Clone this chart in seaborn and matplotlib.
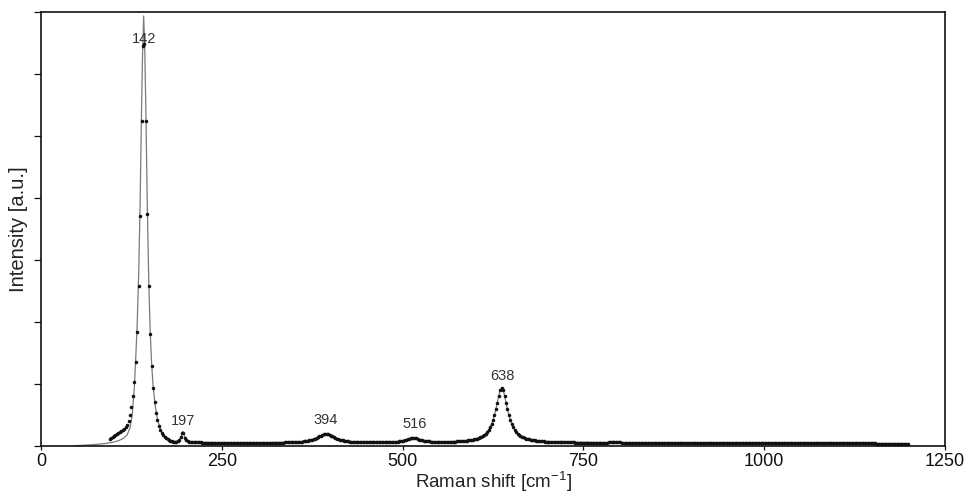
import numpy as np
import pandas as pd
import matplotlib
matplotlib.use("Agg")
import matplotlib.pyplot as plt
import seaborn as sns

# Messpunkte: Raman-Spektrum, Schrittweite 2 cm^-1 ab 95 cm^-1
shift_start = 95
shift_step = 2
intensity = [
    7, 8, 9, 10, 11, 12, 13, 14, 15, 16, 17, 19, 21, 25, 31, 39, 50, 64, 84, 114,            # 95
    160, 230, 325, 400, 402, 325, 232, 160, 112, 80, 58, 44, 33, 26, 20, 16, 13, 11, 9, 8,  # 135
    7, 6, 5.5, 5, 4.5, 4.5, 4.5, 5, 6.5, 9.5, 13.5, 13, 8.5, 6, 5, 4.5, 4.2, 4.0, 3.9, 3.8,  # 175
    3.7, 3.7, 3.6, 3.6, 3.5, 3.5, 3.5, 3.4, 3.4, 3.4, 3.4, 3.3, 3.3, 3.3, 3.3, 3.2, 3.2, 3.2, 3.2, 3.2,  # 215
    3.2, 3.1, 3.1, 3.1, 3.1, 3.1, 3.1, 3.1, 3.1, 3.1, 3.1, 3.1, 3.1, 3.1, 3.2, 3.2, 3.2, 3.2, 3.2, 3.2,  # 255
    3.2, 3.2, 3.2, 3.2, 3.2, 3.2, 3.3, 3.3, 3.3, 3.3, 3.3, 3.4, 3.4, 3.4, 3.4, 3.4, 3.5, 3.5, 3.5, 3.5,  # 295
    3.5, 3.6, 3.6, 3.7, 3.7, 3.8, 3.8, 3.9, 4.0, 4.1, 4.2, 4.3, 4.4, 4.5, 4.7, 4.9, 5.1, 5.4, 5.7, 6.0,  # 335
    6.5, 6.9, 7.5, 8.1, 8.9, 9.6, 10.4, 11.1, 11.7, 12.0, 12.0, 11.7, 11.1, 10.4, 9.6, 8.9, 8.1, 7.5, 6.9, 6.5,  # 375
    6.0, 5.7, 5.4, 5.1, 4.9, 4.7, 4.5, 4.4, 4.3, 4.2, 4.1, 4.0, 3.9, 3.8, 3.8, 3.7, 3.7, 3.7, 3.7, 3.7,  # 415
    3.7, 3.7, 3.7, 3.7, 3.7, 3.7, 3.7, 3.7, 3.7, 3.7, 3.7, 3.7, 3.8, 3.8, 3.9, 3.9, 4.0, 4.1, 4.2, 4.3,  # 455
    4.6, 4.9, 5.2, 5.5, 5.9, 6.4, 6.9, 7.5, 7.9, 8.2, 8.2, 8.0, 7.6, 7.0, 6.5, 6.0, 5.6, 5.3, 5.0, 4.8,  # 495
    4.7, 4.6, 4.5, 4.4, 4.4, 4.3, 4.3, 4.2, 4.2, 4.2, 4.2, 4.2, 4.2, 4.3, 4.3, 4.3, 4.4, 4.4, 4.4, 4.5,  # 535
    4.6, 4.6, 4.7, 4.9, 5.0, 5.1, 5.3, 5.4, 5.6, 5.8, 6.1, 6.4, 6.7, 7.1, 7.5, 8.0, 8.6, 9.3, 10.2, 11.2,  # 575
    12.5, 14.1, 16.1, 18.6, 21.7, 25.6, 30.6, 36.6, 43.5, 50.5, 56.0, 58.1, 56.0, 50.5, 43.5, 36.6, 30.6, 25.6, 21.7, 18.6,  # 615
    16.1, 14.1, 12.5, 11.2, 10.2, 9.3, 8.6, 8.0, 7.5, 7.1, 6.7, 6.4, 6.1, 5.8, 5.6, 5.4, 5.2, 4.9, 4.8, 4.7,  # 655
    4.6, 4.5, 4.4, 4.3, 4.3, 4.2, 4.1, 4.1, 4.0, 4.0, 3.9, 3.9, 3.8, 3.8, 3.8, 3.7, 3.7, 3.7, 3.6, 3.6,  # 695
    3.6, 3.6, 3.5, 3.5, 3.5, 3.5, 3.5, 3.4, 3.4, 3.4, 3.4, 3.4, 3.4, 3.3, 3.3, 3.3, 3.3, 3.3, 3.3, 3.3,  # 735
    3.3, 3.3, 3.4, 3.4, 3.5, 3.6, 3.7, 3.8, 3.9, 3.9, 3.9, 3.8, 3.7, 3.6, 3.5, 3.4, 3.3, 3.3, 3.2, 3.2,  # 775
    3.2, 3.2, 3.2, 3.2, 3.1, 3.1, 3.1, 3.1, 3.1, 3.1, 3.1, 3.0, 3.0, 3.0, 3.0, 3.0, 3.0, 3.0, 3.0, 3.0,  # 815
    3.0, 3.0, 3.0, 3.0, 3.0, 2.9, 2.9, 2.9, 2.9, 2.9, 2.9, 2.9, 2.9, 2.9, 2.9, 2.9, 2.9, 2.9, 2.9, 2.9,  # 855
    2.9, 2.9, 2.9, 2.9, 2.9, 2.9, 2.9, 2.9, 2.9, 2.9, 2.8, 2.8, 2.8, 2.8, 2.8, 2.8, 2.8, 2.8, 2.8, 2.8,  # 895
    2.8, 2.8, 2.8, 2.8, 2.8, 2.8, 2.8, 2.8, 2.8, 2.8, 2.8, 2.8, 2.8, 2.8, 2.8, 2.8, 2.8, 2.8, 2.8, 2.8,  # 935
    2.8, 2.8, 2.8, 2.8, 2.8, 2.8, 2.8, 2.8, 2.8, 2.8, 2.7, 2.7, 2.7, 2.7, 2.7, 2.7, 2.7, 2.7, 2.7, 2.7,  # 975
    2.7, 2.7, 2.7, 2.7, 2.7, 2.7, 2.7, 2.7, 2.7, 2.7, 2.7, 2.7, 2.7, 2.7, 2.7, 2.7, 2.7, 2.7, 2.7, 2.7,  # 1015
    2.7, 2.7, 2.7, 2.7, 2.7, 2.7, 2.7, 2.7, 2.7, 2.7, 2.6, 2.6, 2.6, 2.6, 2.6, 2.6, 2.6, 2.6, 2.6, 2.6,  # 1055
    2.6, 2.6, 2.6, 2.6, 2.6, 2.6, 2.6, 2.6, 2.6, 2.6, 2.6, 2.6, 2.6, 2.6, 2.6, 2.6, 2.6, 2.6, 2.6, 2.6,  # 1095
    2.6, 2.6, 2.6, 2.6, 2.6, 2.6, 2.6, 2.6, 2.6, 2.6, 2.5, 2.5, 2.5, 2.5, 2.5, 2.5, 2.5, 2.5, 2.5, 2.5,  # 1135
    2.5, 2.5, 2.5, 2.5, 2.5, 2.5, 2.5, 2.5, 2.5, 2.5, 2.5, 2.5, 2.5,                          # 1175
]

# Fit-Kurve (graue Linie), Stützstellen
fit_shift = [45, 60, 75, 90, 100, 108, 114, 119, 123, 126, 129, 131, 133, 135, 137,
             139, 140.5, 142, 143.5, 145, 147, 149, 151, 153, 155, 158, 161, 165, 170, 176,
             182, 187, 191, 194, 196, 198, 200, 203, 208, 215, 250, 300, 340, 360, 375,
             385, 390, 394, 398, 403, 413, 430, 460, 480, 495, 505, 510, 514, 518, 523,
             533, 550, 575, 595, 607, 615, 621, 625, 629, 633, 635, 637, 639, 641, 645,
             649, 653, 659, 667, 680, 700, 730, 780, 850, 1000, 1200]
fit_intensity = [0.3, 0.8, 1.5, 2.6, 3.8, 5.5, 7.8, 11, 18, 30, 58, 88, 122, 170, 240,
                 335, 395, 430, 395, 335, 240, 165, 115, 82, 60, 40, 27, 17, 10, 6.5,
                 5, 4.5, 6, 10, 14.5, 11, 7, 5, 4.2, 3.8, 3.2, 3.2, 3.7, 4.4, 6.5,
                 9.6, 11.2, 12, 11.2, 9.6, 6.5, 4.4, 3.7, 3.8, 4.6, 6.4, 7.5, 8.2, 7.8, 6.5,
                 4.8, 4.2, 4.6, 6.1, 8.6, 12.5, 18.6, 25.6, 36.6, 50.5, 56, 58.1, 56, 50.5, 36.6,
                 25.6, 18.6, 12.5, 8.6, 5.8, 4.5, 3.8, 3.4, 3.1, 2.8, 2.4]

peak_labels = [142, 197, 394, 516, 638]
x_ticks = [0, 250, 500, 750, 1000, 1250]
y_top = 434

shift = shift_start + shift_step * np.arange(len(intensity))
df_data = pd.DataFrame({"shift": shift, "intensity": intensity})
df_fit = pd.DataFrame({"shift": fit_shift, "intensity": fit_intensity})

sns.set_style("ticks")
plt.rcParams['font.family'] = ['Liberation Sans', 'DejaVu Sans']
plt.rcParams['mathtext.default'] = 'regular'

fig = plt.figure(figsize=(9.66, 4.96), dpi=100)
ax = fig.add_axes([41 / 966, 1 - 446 / 496, 904 / 966, 434 / 496])

# Fit als dünne graue Linie, Messpunkte als schwarze Punkte
sns.lineplot(data=df_fit, x="shift", y="intensity", color="#7a7a7a", linewidth=0.9,
             estimator=None, sort=False, ax=ax, zorder=2)
sns.scatterplot(data=df_data, x="shift", y="intensity", color="#111111", s=6.5,
                linewidth=0, ax=ax, zorder=3)

# Peak-Beschriftungen über dem lokalen Maximum
label_offsets = [0.7, 5.4, 7.2, 7.2, 5.8]
for p, dy in zip(peak_labels, label_offsets):
    near = np.abs(shift - p) <= 6
    ymax = np.max(np.array(intensity)[near])
    ax.annotate(str(p), xy=(p, ymax), xytext=(0, dy), textcoords="offset points",
                ha="center", va="baseline", fontsize=10.5, color="#333333", zorder=4)

ax.set_xlim(0, 1250)
ax.set_ylim(0, y_top)
ax.set_xticks(x_ticks)
ax.set_xticklabels([str(t) for t in x_ticks])
ax.set_yticks(np.linspace(0, y_top, 8))
ax.set_yticklabels([])

for sp in ax.spines.values():
    sp.set_visible(True)
    sp.set_linewidth(1.2)
    sp.set_color("#111111")

ax.tick_params(axis="x", direction="out", length=3, width=0.9, pad=2, labelsize=13, colors="#111111")
ax.tick_params(axis="y", direction="out", length=5, width=0.9, colors="#111111")

ax.set_xlabel("Raman shift [cm$^{-1}$]", fontsize=13.5, labelpad=0, color="#222222")
ax.set_ylabel("Intensity [a.u.]", fontsize=14.5, color="#222222")
ax.yaxis.set_label_coords(-0.0144, 0.5)

fig.savefig("out.png", dpi=100)
